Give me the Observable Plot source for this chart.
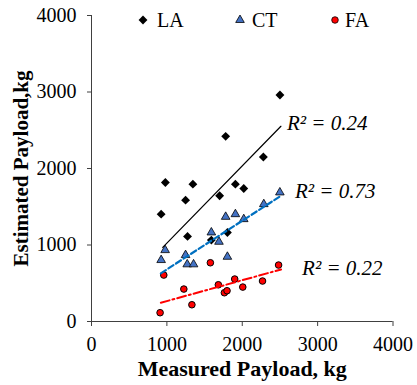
<!DOCTYPE html>
<html><head><meta charset="utf-8">
<script src="https://cdn.jsdelivr.net/npm/d3@7"></script>
<script src="https://cdn.jsdelivr.net/npm/@observablehq/plot@0.6"></script>
<style>
body{margin:0;background:#fff;}
#wrap{position:relative;width:417px;height:385px;font-family:"Liberation Serif","Times New Roman",serif;}
#wrap svg{display:block;}
#wrap svg text{font-family:"Liberation Serif","Times New Roman",serif !important;}
#legend{position:absolute;left:0;top:0;pointer-events:none;}
</style></head><body><div id="wrap"></div>
<script>
// Series names
const seriesNames = ["LA", "CT", "FA"];
// LA (diamonds)
const laX = [2500, 1780, 2280, 980, 1345, 1909, 2020, 1248, 1700, 924, 1274, 1803, 1590];
const laY = [2960, 2420, 2150, 1817, 1795, 1795, 1739, 1586, 1643, 1403, 1112, 1164, 1064];
// CT (triangles)
const ctX = [977, 924, 1248, 1270, 1354, 1590, 1691, 1780, 1909, 2020, 1803, 2286, 2499];
const ctY = [933, 803, 868, 747, 747, 1164, 1042, 1368, 1403, 1338, 846, 1534, 1687];
// FA (circles)
const faX = [959, 910, 1225, 1332, 1577, 1683, 1763, 1798, 1900, 2007, 2269, 2482];
const faY = [607, 115, 424, 219, 768, 480, 376, 402, 555, 450, 529, 738];
// Trend line endpoints
const laFitX = [945, 2513], laFitY = [969, 2552];
const ctFitX = [920, 2500], ctFitY = [630, 1635];
const faFitX = [920, 2515], faFitY = [245, 680];
// R² labels
const r2Labels = ["R² = 0.24", "R² = 0.73", "R² = 0.22"];
// Ticks and titles
const xTicks = [0, 1000, 2000, 3000, 4000];
const yTicks = [0, 1000, 2000, 3000, 4000];
const xTitle = "Measured Payload, kg";
const yTitle = "Estimated Payload,kg";

const pts = (xs, ys) => xs.map((x, i) => ({x, y: ys[i]}));
const la = pts(laX, laY), ct = pts(ctX, ctY), fa = pts(faX, faY);
const laFit = pts(laFitX, laFitY), ctFit = pts(ctFitX, ctFitY), faFit = pts(faFitX, faFitY);
const endLabel = (fit, label) => [{x: fit[1].x, y: fit[1].y, t: label}];

const serif = '"Liberation Serif", "Times New Roman", serif';
const fmt = d => String(d);

const plot = Plot.plot({
  width: 417, height: 385,
  marginLeft: 91, marginRight: 24.5, marginTop: 15, marginBottom: 64,
  x: {domain: [0, 4000]},
  y: {domain: [0, 4000]},
  style: {fontFamily: serif, fontSize: "20px", color: "#000", background: "white", overflow: "visible"},
  marks: [
    Plot.axisX(xTicks, {tickSize: 5, tickPadding: 10, fontSize: 20, fontFamily: serif, label: null, tickFormat: fmt, stroke: "#404040"}),
    Plot.axisY(yTicks, {tickSize: 4, tickPadding: 11, fontSize: 20, fontFamily: serif, label: null, tickFormat: fmt, stroke: "#404040"}),
    Plot.ruleY([0], {stroke: "#404040", strokeWidth: 1}),
    Plot.ruleX([0], {stroke: "#404040", strokeWidth: 1}),
    Plot.dot(la, {x: "x", y: "y", symbol: "diamond2", r: 4, fill: "black", stroke: "none"}),
    Plot.dot(ct, {x: "x", y: "y", symbol: "triangle", r: 3.2, fill: "#4472c4", stroke: "black", strokeWidth: 0.8}),
    Plot.dot(fa, {x: "x", y: "y", symbol: "circle", r: 3.3, fill: "#ff0000", stroke: "black", strokeWidth: 1}),
    Plot.line(laFit, {x: "x", y: "y", stroke: "black", strokeWidth: 1.2}),
    Plot.line(ctFit, {x: "x", y: "y", stroke: "#0070c0", strokeWidth: 2.2, strokeDasharray: "6,3"}),
    Plot.line(faFit, {x: "x", y: "y", stroke: "#ff0000", strokeWidth: 2, strokeDasharray: "9,3,2,3"}),
    Plot.text(endLabel(laFit, r2Labels[0]), {x: "x", y: "y", text: "t", dx: 6, dy: -3, textAnchor: "start", fontStyle: "italic", fontSize: 21, fontFamily: serif}),
    Plot.text(endLabel(ctFit, r2Labels[1]), {x: "x", y: "y", text: "t", dx: 15, dy: -5, textAnchor: "start", fontStyle: "italic", fontSize: 21, fontFamily: serif}),
    Plot.text(endLabel(faFit, r2Labels[2]), {x: "x", y: "y", text: "t", dx: 21, dy: -1, textAnchor: "start", fontStyle: "italic", fontSize: 21, fontFamily: serif}),
    Plot.text([xTitle], {frameAnchor: "bottom", dy: 47, lineAnchor: "middle", textAnchor: "middle", fontWeight: "bold", fontSize: 22, fontFamily: serif}),
    Plot.text([yTitle], {frameAnchor: "left", dx: -70, rotate: -90, lineAnchor: "middle", textAnchor: "middle", fontWeight: "bold", fontSize: 21, fontFamily: serif})
  ]
});
const wrap = document.getElementById("wrap");
wrap.appendChild(plot);

// Legend overlay (inside plot area, top)
const leg = d3.select(wrap).append("svg").attr("id", "legend").attr("width", 417).attr("height", 40);
const legendItems = [
  {name: seriesNames[0], cx: 143, tx: 157, sym: d3.symbolDiamond2, size: 50, fill: "black", stroke: "none"},
  {name: seriesNames[1], cx: 240, tx: 252, sym: d3.symbolTriangle, size: 32, fill: "#4472c4", stroke: "black"},
  {name: seriesNames[2], cx: 335, tx: 345, sym: d3.symbolCircle, size: 34, fill: "#ff0000", stroke: "black"}
];
for (const it of legendItems) {
  leg.append("path").attr("d", d3.symbol(it.sym, it.size)()).attr("transform", `translate(${it.cx},20)`)
    .attr("fill", it.fill).attr("stroke", it.stroke).attr("stroke-width", 0.8);
  leg.append("text").attr("x", it.tx).attr("y", 27).attr("font-family", serif).attr("font-size", 20).attr("fill", "black").text(it.name);
}
</script></body></html>
